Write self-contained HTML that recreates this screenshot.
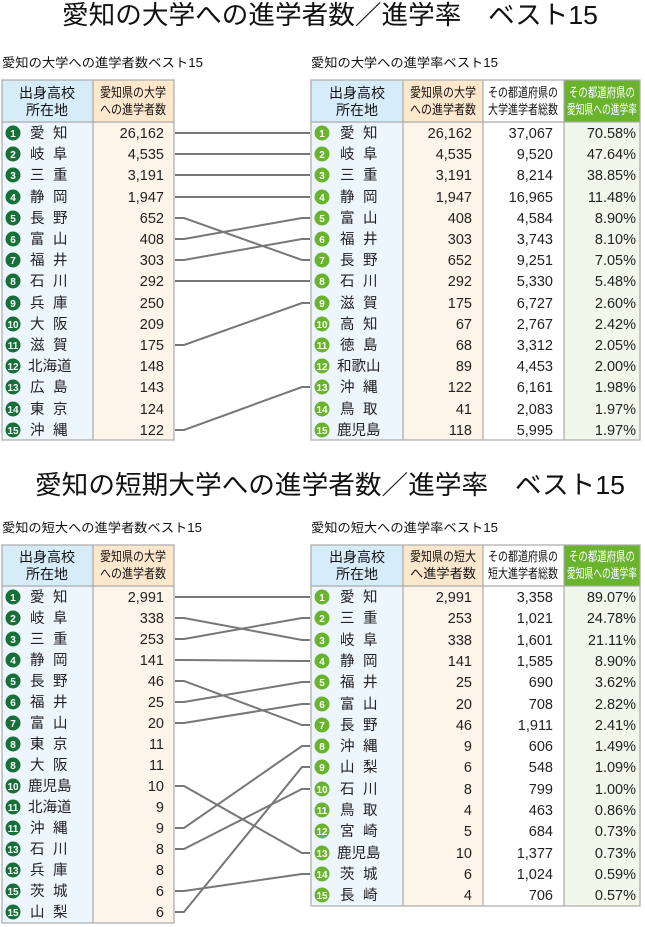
<!DOCTYPE html>
<html><head><meta charset="utf-8"><style>
html,body{margin:0;padding:0;background:#fff;}
svg{display:block;font-family:"Liberation Sans","Noto Sans CJK JP",sans-serif;}
.t{font-size:26px;fill:#111;}
.s{font-size:12.5px;fill:#111;}
.h{font-size:13px;fill:#111;text-anchor:middle;}
.hb{font-size:14px;fill:#111;text-anchor:middle;}
.hw{font-size:13px;fill:#fff;text-anchor:middle;}
.n{font-size:14.5px;fill:#222;}
.v{font-size:14.5px;fill:#222;text-anchor:end;}
.c{font-size:10px;fill:#fff;text-anchor:middle;font-weight:bold;}
.ln{stroke:#777;stroke-width:2;fill:none;}
</style></head><body>
<svg width="645" height="927" viewBox="0 0 645 927">
<text class="t" x="62" y="24" textLength="536" lengthAdjust="spacingAndGlyphs">愛知の大学への進学者数／進学率　ベスト15</text>
<text class="s" x="2" y="67" textLength="201" lengthAdjust="spacingAndGlyphs">愛知の大学への進学者数ベスト15</text>
<text class="s" x="311" y="67" textLength="187" lengthAdjust="spacingAndGlyphs">愛知の大学への進学率ベスト15</text>

<rect x="2" y="80" width="91" height="42" fill="#d7ecf9"/>
<rect x="93" y="80" width="81" height="42" fill="#fde8cd"/>
<rect x="2" y="122" width="91" height="318" fill="#eef6fd"/>
<rect x="93" y="122" width="81" height="318" fill="#fdf4ea"/>
<rect x="2" y="80" width="172" height="360" fill="none" stroke="#aaa" stroke-width="1.2"/>
<line x1="2" y1="122" x2="174" y2="122" stroke="#aaa" stroke-width="1.2"/>
<line x1="93" y1="80" x2="93" y2="440" stroke="#aaa" stroke-width="1.2"/>
<text class="hb" x="47" y="98">出身高校</text><text class="hb" x="47" y="115">所在地</text>
<text class="h" x="133" y="97" textLength="66" lengthAdjust="spacingAndGlyphs">愛知県の大学</text><text class="h" x="133" y="114" textLength="66" lengthAdjust="spacingAndGlyphs">への進学者数</text>

<g fill="#17703a">
<circle cx="13" cy="133" r="7.5"/><circle cx="13" cy="154" r="7.5"/><circle cx="13" cy="175" r="7.5"/><circle cx="13" cy="197" r="7.5"/><circle cx="13" cy="218" r="7.5"/><circle cx="13" cy="239" r="7.5"/><circle cx="13" cy="260" r="7.5"/><circle cx="13" cy="281" r="7.5"/><circle cx="13" cy="303" r="7.5"/><circle cx="13" cy="324" r="7.5"/><circle cx="13" cy="345" r="7.5"/><circle cx="13" cy="366" r="7.5"/><circle cx="13" cy="387" r="7.5"/><circle cx="13" cy="409" r="7.5"/><circle cx="13" cy="430" r="7.5"/>
</g>
<g class="c">
<text x="13" y="137">1</text><text x="13" y="158">2</text><text x="13" y="179">3</text><text x="13" y="201">4</text><text x="13" y="222">5</text><text x="13" y="243">6</text><text x="13" y="264">7</text><text x="13" y="285">8</text><text x="13" y="307">9</text><text x="13" y="328">10</text><text x="13" y="349">11</text><text x="13" y="370">12</text><text x="13" y="391">13</text><text x="13" y="413">14</text><text x="13" y="434">15</text>
</g>
<g class="n">
<text x="30" y="138">愛<tspan x="53">知</tspan></text>
<text x="30" y="159">岐<tspan x="53">阜</tspan></text>
<text x="30" y="180">三<tspan x="53">重</tspan></text>
<text x="30" y="202">静<tspan x="53">岡</tspan></text>
<text x="30" y="223">長<tspan x="53">野</tspan></text>
<text x="30" y="244">富<tspan x="53">山</tspan></text>
<text x="30" y="265">福<tspan x="53">井</tspan></text>
<text x="30" y="286">石<tspan x="53">川</tspan></text>
<text x="30" y="308">兵<tspan x="53">庫</tspan></text>
<text x="30" y="329">大<tspan x="53">阪</tspan></text>
<text x="30" y="350">滋<tspan x="53">賀</tspan></text>
<text x="28" y="371">北海道</text>
<text x="30" y="392">広<tspan x="53">島</tspan></text>
<text x="30" y="414">東<tspan x="53">京</tspan></text>
<text x="30" y="435">沖<tspan x="53">縄</tspan></text>
</g>
<g class="v">
<text x="164" y="138">26,162</text><text x="164" y="159">4,535</text><text x="164" y="180">3,191</text><text x="164" y="202">1,947</text><text x="164" y="223">652</text><text x="164" y="244">408</text><text x="164" y="265">303</text><text x="164" y="286">292</text><text x="164" y="308">250</text><text x="164" y="329">209</text><text x="164" y="350">175</text><text x="164" y="371">148</text><text x="164" y="392">143</text><text x="164" y="414">124</text><text x="164" y="435">122</text>
</g>

<rect x="311" y="80" width="92" height="42" fill="#d7ecf9"/>
<rect x="403" y="80" width="80" height="42" fill="#fde8cd"/>
<rect x="564" y="80" width="76" height="42" fill="#6ab42d"/>
<rect x="311" y="122" width="92" height="318" fill="#eef6fd"/>
<rect x="403" y="122" width="80" height="318" fill="#fdf4ea"/>
<rect x="564" y="122" width="76" height="318" fill="#f1f7ea"/>
<rect x="311" y="80" width="329" height="360" fill="none" stroke="#aaa" stroke-width="1.2"/>
<line x1="311" y1="122" x2="640" y2="122" stroke="#aaa" stroke-width="1.2"/>
<line x1="403" y1="80" x2="403" y2="440" stroke="#aaa" stroke-width="1.2"/>
<line x1="483" y1="80" x2="483" y2="440" stroke="#aaa" stroke-width="1.2"/>
<line x1="564" y1="80" x2="564" y2="440" stroke="#aaa" stroke-width="1.2"/>
<text class="hb" x="357" y="98">出身高校</text><text class="hb" x="357" y="115">所在地</text>
<text class="h" x="443" y="97" textLength="66" lengthAdjust="spacingAndGlyphs">愛知県の大学</text><text class="h" x="443" y="114" textLength="66" lengthAdjust="spacingAndGlyphs">への進学者数</text>
<text class="h" x="523" y="97" textLength="70" lengthAdjust="spacingAndGlyphs">その都道府県の</text><text class="h" x="523" y="114" textLength="70" lengthAdjust="spacingAndGlyphs">大学進学者総数</text>
<text class="hw" x="602" y="97" textLength="66" lengthAdjust="spacingAndGlyphs">その都道府県の</text><text class="hw" x="602" y="114" textLength="70" lengthAdjust="spacingAndGlyphs">愛知県への進学率</text>

<g fill="#6ab42d">
<circle cx="322" cy="133" r="7.5"/><circle cx="322" cy="154" r="7.5"/><circle cx="322" cy="175" r="7.5"/><circle cx="322" cy="197" r="7.5"/><circle cx="322" cy="218" r="7.5"/><circle cx="322" cy="239" r="7.5"/><circle cx="322" cy="260" r="7.5"/><circle cx="322" cy="281" r="7.5"/><circle cx="322" cy="303" r="7.5"/><circle cx="322" cy="324" r="7.5"/><circle cx="322" cy="345" r="7.5"/><circle cx="322" cy="366" r="7.5"/><circle cx="322" cy="387" r="7.5"/><circle cx="322" cy="409" r="7.5"/><circle cx="322" cy="430" r="7.5"/>
</g>
<g class="c">
<text x="322" y="137">1</text><text x="322" y="158">2</text><text x="322" y="179">3</text><text x="322" y="201">4</text><text x="322" y="222">5</text><text x="322" y="243">6</text><text x="322" y="264">7</text><text x="322" y="285">8</text><text x="322" y="307">9</text><text x="322" y="328">10</text><text x="322" y="349">11</text><text x="322" y="370">12</text><text x="322" y="391">13</text><text x="322" y="413">14</text><text x="322" y="434">15</text>
</g>
<g class="n">
<text x="340" y="138">愛<tspan x="363">知</tspan></text>
<text x="340" y="159">岐<tspan x="363">阜</tspan></text>
<text x="340" y="180">三<tspan x="363">重</tspan></text>
<text x="340" y="202">静<tspan x="363">岡</tspan></text>
<text x="340" y="223">富<tspan x="363">山</tspan></text>
<text x="340" y="244">福<tspan x="363">井</tspan></text>
<text x="340" y="265">長<tspan x="363">野</tspan></text>
<text x="340" y="286">石<tspan x="363">川</tspan></text>
<text x="340" y="308">滋<tspan x="363">賀</tspan></text>
<text x="340" y="329">高<tspan x="363">知</tspan></text>
<text x="340" y="350">徳<tspan x="363">島</tspan></text>
<text x="337" y="371">和歌山</text>
<text x="340" y="392">沖<tspan x="363">縄</tspan></text>
<text x="340" y="414">鳥<tspan x="363">取</tspan></text>
<text x="337" y="435">鹿児島</text>
</g>
<g class="v">
<text x="472" y="138">26,162</text><text x="472" y="159">4,535</text><text x="472" y="180">3,191</text><text x="472" y="202">1,947</text><text x="472" y="223">408</text><text x="472" y="244">303</text><text x="472" y="265">652</text><text x="472" y="286">292</text><text x="472" y="308">175</text><text x="472" y="329">67</text><text x="472" y="350">68</text><text x="472" y="371">89</text><text x="472" y="392">122</text><text x="472" y="414">41</text><text x="472" y="435">118</text>
<text x="553" y="138">37,067</text><text x="553" y="159">9,520</text><text x="553" y="180">8,214</text><text x="553" y="202">16,965</text><text x="553" y="223">4,584</text><text x="553" y="244">3,743</text><text x="553" y="265">9,251</text><text x="553" y="286">5,330</text><text x="553" y="308">6,727</text><text x="553" y="329">2,767</text><text x="553" y="350">3,312</text><text x="553" y="371">4,453</text><text x="553" y="392">6,161</text><text x="553" y="414">2,083</text><text x="553" y="435">5,995</text>
<text x="636" y="138">70.58%</text><text x="636" y="159">47.64%</text><text x="636" y="180">38.85%</text><text x="636" y="202">11.48%</text><text x="636" y="223">8.90%</text><text x="636" y="244">8.10%</text><text x="636" y="265">7.05%</text><text x="636" y="286">5.48%</text><text x="636" y="308">2.60%</text><text x="636" y="329">2.42%</text><text x="636" y="350">2.05%</text><text x="636" y="371">2.00%</text><text x="636" y="392">1.98%</text><text x="636" y="414">1.97%</text><text x="636" y="435">1.97%</text>
</g>
<g class="ln">
<path d="M175,133H184L302,133H310"/>
<path d="M175,154H184L302,154H310"/>
<path d="M175,175H184L302,175H310"/>
<path d="M175,197H184L302,197H310"/>
<path d="M175,218H184L302,260H310"/>
<path d="M175,239H184L302,218H310"/>
<path d="M175,260H184L302,239H310"/>
<path d="M175,281H184L302,281H310"/>
<path d="M175,345H184L302,303H310"/>
<path d="M175,430H184L302,387H310"/>
</g>

<text class="t" x="35" y="494" textLength="590" lengthAdjust="spacingAndGlyphs">愛知の短期大学への進学者数／進学率　ベスト15</text>
<text class="s" x="2" y="532" textLength="200" lengthAdjust="spacingAndGlyphs">愛知の短大への進学者数ベスト15</text>
<text class="s" x="311" y="532" textLength="187" lengthAdjust="spacingAndGlyphs">愛知の短大への進学率ベスト15</text>

<rect x="2" y="545" width="91" height="41" fill="#d7ecf9"/>
<rect x="93" y="545" width="81" height="41" fill="#fde8cd"/>
<rect x="2" y="586" width="91" height="337" fill="#eef6fd"/>
<rect x="93" y="586" width="81" height="337" fill="#fdf4ea"/>
<rect x="2" y="545" width="172" height="378" fill="none" stroke="#aaa" stroke-width="1.2"/>
<line x1="2" y1="586" x2="174" y2="586" stroke="#aaa" stroke-width="1.2"/>
<line x1="93" y1="545" x2="93" y2="923" stroke="#aaa" stroke-width="1.2"/>
<text class="hb" x="47" y="562">出身高校</text><text class="hb" x="47" y="579">所在地</text>
<text class="h" x="133" y="561" textLength="66" lengthAdjust="spacingAndGlyphs">愛知県の大学</text><text class="h" x="133" y="578" textLength="66" lengthAdjust="spacingAndGlyphs">への進学者数</text>

<g fill="#17703a">
<circle cx="13" cy="597" r="7.5"/><circle cx="13" cy="618" r="7.5"/><circle cx="13" cy="639" r="7.5"/><circle cx="13" cy="660" r="7.5"/><circle cx="13" cy="681" r="7.5"/><circle cx="13" cy="702" r="7.5"/><circle cx="13" cy="723" r="7.5"/><circle cx="13" cy="744" r="7.5"/><circle cx="13" cy="765" r="7.5"/><circle cx="13" cy="786" r="7.5"/><circle cx="13" cy="807" r="7.5"/><circle cx="13" cy="828" r="7.5"/><circle cx="13" cy="849" r="7.5"/><circle cx="13" cy="870" r="7.5"/><circle cx="13" cy="891" r="7.5"/><circle cx="13" cy="912" r="7.5"/>
</g>
<g class="c">
<text x="13" y="601">1</text><text x="13" y="622">2</text><text x="13" y="643">3</text><text x="13" y="664">4</text><text x="13" y="685">5</text><text x="13" y="706">6</text><text x="13" y="727">7</text><text x="13" y="748">8</text><text x="13" y="769">8</text><text x="13" y="790">10</text><text x="13" y="811">11</text><text x="13" y="832">11</text><text x="13" y="853">13</text><text x="13" y="874">13</text><text x="13" y="895">15</text><text x="13" y="916">15</text>
</g>
<g class="n">
<text x="30" y="602">愛<tspan x="53">知</tspan></text>
<text x="30" y="623">岐<tspan x="53">阜</tspan></text>
<text x="30" y="644">三<tspan x="53">重</tspan></text>
<text x="30" y="665">静<tspan x="53">岡</tspan></text>
<text x="30" y="686">長<tspan x="53">野</tspan></text>
<text x="30" y="707">福<tspan x="53">井</tspan></text>
<text x="30" y="728">富<tspan x="53">山</tspan></text>
<text x="30" y="749">東<tspan x="53">京</tspan></text>
<text x="30" y="770">大<tspan x="53">阪</tspan></text>
<text x="28" y="791">鹿児島</text>
<text x="28" y="812">北海道</text>
<text x="30" y="833">沖<tspan x="53">縄</tspan></text>
<text x="30" y="854">石<tspan x="53">川</tspan></text>
<text x="30" y="875">兵<tspan x="53">庫</tspan></text>
<text x="30" y="896">茨<tspan x="53">城</tspan></text>
<text x="30" y="917">山<tspan x="53">梨</tspan></text>
</g>
<g class="v">
<text x="164" y="602">2,991</text><text x="164" y="623">338</text><text x="164" y="644">253</text><text x="164" y="665">141</text><text x="164" y="686">46</text><text x="164" y="707">25</text><text x="164" y="728">20</text><text x="164" y="749">11</text><text x="164" y="770">11</text><text x="164" y="791">10</text><text x="164" y="812">9</text><text x="164" y="833">9</text><text x="164" y="854">8</text><text x="164" y="875">8</text><text x="164" y="896">6</text><text x="164" y="917">6</text>
</g>

<rect x="311" y="545" width="92" height="41" fill="#d7ecf9"/>
<rect x="403" y="545" width="80" height="41" fill="#fde8cd"/>
<rect x="564" y="545" width="76" height="41" fill="#6ab42d"/>
<rect x="311" y="586" width="92" height="320" fill="#eef6fd"/>
<rect x="403" y="586" width="80" height="320" fill="#fdf4ea"/>
<rect x="564" y="586" width="76" height="320" fill="#f1f7ea"/>
<rect x="311" y="545" width="329" height="361" fill="none" stroke="#aaa" stroke-width="1.2"/>
<line x1="311" y1="586" x2="640" y2="586" stroke="#aaa" stroke-width="1.2"/>
<line x1="403" y1="545" x2="403" y2="906" stroke="#aaa" stroke-width="1.2"/>
<line x1="483" y1="545" x2="483" y2="906" stroke="#aaa" stroke-width="1.2"/>
<line x1="564" y1="545" x2="564" y2="906" stroke="#aaa" stroke-width="1.2"/>
<text class="hb" x="357" y="562">出身高校</text><text class="hb" x="357" y="579">所在地</text>
<text class="h" x="443" y="561" textLength="66" lengthAdjust="spacingAndGlyphs">愛知県の短大</text><text class="h" x="443" y="578" textLength="66" lengthAdjust="spacingAndGlyphs">へ進学者数</text>
<text class="h" x="523" y="561" textLength="70" lengthAdjust="spacingAndGlyphs">その都道府県の</text><text class="h" x="523" y="578" textLength="70" lengthAdjust="spacingAndGlyphs">短大進学者総数</text>
<text class="hw" x="602" y="561" textLength="66" lengthAdjust="spacingAndGlyphs">その都道府県の</text><text class="hw" x="602" y="578" textLength="70" lengthAdjust="spacingAndGlyphs">愛知県への進学率</text>

<g fill="#6ab42d">
<circle cx="322" cy="597" r="7.5"/><circle cx="322" cy="618" r="7.5"/><circle cx="322" cy="640" r="7.5"/><circle cx="322" cy="661" r="7.5"/><circle cx="322" cy="682" r="7.5"/><circle cx="322" cy="704" r="7.5"/><circle cx="322" cy="725" r="7.5"/><circle cx="322" cy="746" r="7.5"/><circle cx="322" cy="767" r="7.5"/><circle cx="322" cy="789" r="7.5"/><circle cx="322" cy="810" r="7.5"/><circle cx="322" cy="831" r="7.5"/><circle cx="322" cy="853" r="7.5"/><circle cx="322" cy="874" r="7.5"/><circle cx="322" cy="895" r="7.5"/>
</g>
<g class="c">
<text x="322" y="601">1</text><text x="322" y="622">2</text><text x="322" y="644">3</text><text x="322" y="665">4</text><text x="322" y="686">5</text><text x="322" y="708">6</text><text x="322" y="729">7</text><text x="322" y="750">8</text><text x="322" y="771">9</text><text x="322" y="793">10</text><text x="322" y="814">11</text><text x="322" y="835">12</text><text x="322" y="857">13</text><text x="322" y="878">14</text><text x="322" y="899">15</text>
</g>
<g class="n">
<text x="340" y="602">愛<tspan x="363">知</tspan></text>
<text x="340" y="623">三<tspan x="363">重</tspan></text>
<text x="340" y="645">岐<tspan x="363">阜</tspan></text>
<text x="340" y="666">静<tspan x="363">岡</tspan></text>
<text x="340" y="687">福<tspan x="363">井</tspan></text>
<text x="340" y="709">富<tspan x="363">山</tspan></text>
<text x="340" y="730">長<tspan x="363">野</tspan></text>
<text x="340" y="751">沖<tspan x="363">縄</tspan></text>
<text x="340" y="772">山<tspan x="363">梨</tspan></text>
<text x="340" y="794">石<tspan x="363">川</tspan></text>
<text x="340" y="815">鳥<tspan x="363">取</tspan></text>
<text x="340" y="836">宮<tspan x="363">崎</tspan></text>
<text x="337" y="858">鹿児島</text>
<text x="340" y="879">茨<tspan x="363">城</tspan></text>
<text x="340" y="900">長<tspan x="363">崎</tspan></text>
</g>
<g class="v">
<text x="472" y="602">2,991</text><text x="472" y="623">253</text><text x="472" y="645">338</text><text x="472" y="666">141</text><text x="472" y="687">25</text><text x="472" y="709">20</text><text x="472" y="730">46</text><text x="472" y="751">9</text><text x="472" y="772">6</text><text x="472" y="794">8</text><text x="472" y="815">4</text><text x="472" y="836">5</text><text x="472" y="858">10</text><text x="472" y="879">6</text><text x="472" y="900">4</text>
<text x="553" y="602">3,358</text><text x="553" y="623">1,021</text><text x="553" y="645">1,601</text><text x="553" y="666">1,585</text><text x="553" y="687">690</text><text x="553" y="709">708</text><text x="553" y="730">1,911</text><text x="553" y="751">606</text><text x="553" y="772">548</text><text x="553" y="794">799</text><text x="553" y="815">463</text><text x="553" y="836">684</text><text x="553" y="858">1,377</text><text x="553" y="879">1,024</text><text x="553" y="900">706</text>
<text x="636" y="602">89.07%</text><text x="636" y="623">24.78%</text><text x="636" y="645">21.11%</text><text x="636" y="666">8.90%</text><text x="636" y="687">3.62%</text><text x="636" y="709">2.82%</text><text x="636" y="730">2.41%</text><text x="636" y="751">1.49%</text><text x="636" y="772">1.09%</text><text x="636" y="794">1.00%</text><text x="636" y="815">0.86%</text><text x="636" y="836">0.73%</text><text x="636" y="858">0.73%</text><text x="636" y="879">0.59%</text><text x="636" y="900">0.57%</text>
</g>
<g class="ln">
<path d="M175,597H184L302,597H310"/>
<path d="M175,618H184L302,640H310"/>
<path d="M175,639H184L302,618H310"/>
<path d="M175,660H184L302,661H310"/>
<path d="M175,681H184L302,725H310"/>
<path d="M175,702H184L302,682H310"/>
<path d="M175,723H184L302,704H310"/>
<path d="M175,786H184L302,853H310"/>
<path d="M175,828H184L302,746H310"/>
<path d="M175,849H184L302,789H310"/>
<path d="M175,891H184L302,874H310"/>
<path d="M175,912H184L302,767H310"/>
</g>
</svg>
</body></html>
